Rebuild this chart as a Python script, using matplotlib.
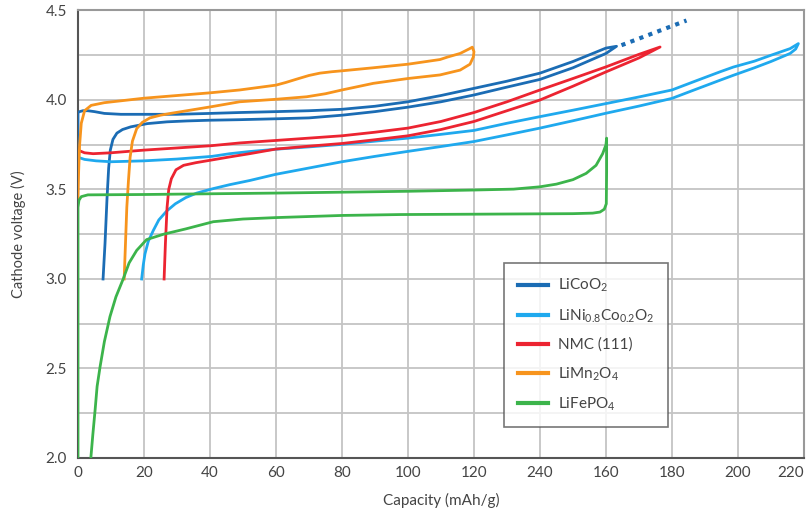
import numpy as np
import matplotlib.pyplot as plt
from matplotlib.ticker import MultipleLocator

plt.rcParams['font.family'] = ['Lato', 'DejaVu Sans']
plt.rcParams['mathtext.fontset'] = 'custom'
plt.rcParams['mathtext.rm'] = 'Lato'
plt.rcParams['mathtext.it'] = 'Lato'

# cathode voltage curves: (capacity mAh/g, volts)
# each one is a closed charge/discharge loop drawn as a single path
licoo2_x = [7.6, 8.2, 8.8, 9.3, 9.8, 10.6, 11.8, 13.5, 16, 21, 27, 33, 40, 49, 60, 70, 80, 90,
            100, 110, 120, 125, 130, 140, 150, 160, 163.2,
            160, 150, 140, 130, 125, 120, 110, 100, 90, 80, 70, 60, 49, 40, 30, 20, 13, 8, 5,
            3, 1.5, 0.5, 0, 0]
licoo2_v = [3.0, 3.2, 3.45, 3.62, 3.72, 3.78, 3.815, 3.835, 3.85, 3.868, 3.878, 3.883, 3.887,
            3.89, 3.895, 3.90, 3.915, 3.935, 3.96, 3.99, 4.028, 4.05, 4.072, 4.115, 4.18, 4.26, 4.30,
            4.29, 4.215, 4.15, 4.105, 4.085, 4.065, 4.025, 3.99, 3.965, 3.948, 3.94, 3.935, 3.93,
            3.925, 3.92, 3.92, 3.92, 3.925, 3.935, 3.94, 3.94, 3.935, 3.93, 3.75]
licoo2_ext_x = [164.7, 184.4]
licoo2_ext_v = [4.306, 4.444]

lini_x = [19.3, 19.8, 20.3, 21.3, 22.8, 24.5, 26.9, 29.5, 32.7, 36, 41, 46, 52, 60, 70, 80, 90,
          100, 110, 120, 130, 140, 150, 160, 170, 180, 187, 194.5, 198.6, 205, 210, 215.8, 217.5,
          218.3, 215.8, 210, 205, 198.6, 194.5, 187, 180, 170, 160, 150, 140, 130, 120, 110, 100,
          90, 80, 70, 60, 52, 46, 40.6, 30, 20, 10, 5.5, 2, 0]
lini_v = [3.0, 3.08, 3.14, 3.21, 3.27, 3.33, 3.38, 3.42, 3.455, 3.48, 3.505, 3.527, 3.55, 3.585,
          3.62, 3.655, 3.685, 3.713, 3.74, 3.768, 3.805, 3.843, 3.884, 3.926, 3.966, 4.009, 4.058,
          4.11, 4.138, 4.18, 4.215, 4.26, 4.285, 4.315, 4.287, 4.25, 4.217, 4.184, 4.157, 4.105,
          4.056, 4.017, 3.98, 3.943, 3.907, 3.87, 3.83, 3.808, 3.787, 3.77, 3.752, 3.738, 3.725,
          3.712, 3.70, 3.685, 3.67, 3.66, 3.655, 3.66, 3.668, 3.68]

nmc_x = [26.1, 26.5, 27, 27.5, 28.3, 29.7, 32, 35.8, 40.6, 46, 52, 60, 70, 80, 90, 100, 110, 120,
         130, 140, 150, 160, 170, 176.4,
         170, 160, 150, 140, 130, 120, 110, 100, 90, 80, 70, 60, 49, 40.6, 30, 20, 10, 4.6, 2, 0]
nmc_v = [3.0, 3.2, 3.4, 3.5, 3.56, 3.61, 3.635, 3.65, 3.665, 3.682, 3.70, 3.726, 3.742, 3.757,
         3.778, 3.80, 3.835, 3.88, 3.94, 4.0, 4.077, 4.157, 4.235, 4.296,
         4.255, 4.185, 4.12, 4.056, 3.99, 3.93, 3.88, 3.843, 3.82, 3.80, 3.787, 3.774, 3.76,
         3.745, 3.732, 3.72, 3.705, 3.70, 3.705, 3.72]

limn_x = [14, 14.4, 14.8, 15.3, 15.8, 16.5, 17.8, 19.5, 21.8, 25, 28, 34, 40.6, 49, 60, 69.3, 75,
          80, 89.5, 100, 109.7, 115.8, 118.8, 119.8, 120, 119.5, 118.5, 115.8, 112, 109.7, 100,
          89.5, 80, 77, 73.3, 70, 66, 63, 60, 49, 40, 30, 20, 8, 4, 2, 1, 0.5, 0.2, 0]
limn_v = [3.0, 3.2, 3.4, 3.55, 3.68, 3.77, 3.84, 3.875, 3.90, 3.915, 3.925, 3.943, 3.963, 3.99,
          4.004, 4.018, 4.035, 4.056, 4.093, 4.12, 4.14, 4.167, 4.20, 4.24, 4.27, 4.295, 4.285,
          4.26, 4.24, 4.226, 4.20, 4.18, 4.163, 4.158, 4.15, 4.137, 4.115, 4.098, 4.083, 4.056,
          4.04, 4.025, 4.01, 3.985, 3.97, 3.94, 3.87, 3.75, 3.6, 3.45]

lfp_x = [0, 0, 0.3, 1, 3, 20, 40, 60, 80, 100, 120, 132, 140, 145, 150, 154, 157, 159, 160,
         160.2, 160.2, 160.1, 159.5, 158.2, 156, 150, 120, 97.6, 80, 60, 50, 41, 32.7, 25.9, 20.8,
         17.8, 15.5, 13.7, 11.5, 9.7, 8, 6.7, 5.8, 5.2, 4.5, 3.9]
lfp_v = [2.0, 3.40, 3.44, 3.46, 3.47, 3.472, 3.476, 3.48, 3.485, 3.49, 3.497, 3.502, 3.515, 3.53,
         3.555, 3.59, 3.635, 3.70, 3.75, 3.787, 3.60, 3.42, 3.39, 3.374, 3.368, 3.365, 3.362,
         3.36, 3.355, 3.343, 3.335, 3.32, 3.28, 3.25, 3.22, 3.16, 3.09, 3.0, 2.9, 2.79, 2.65,
         2.51, 2.4, 2.27, 2.13, 2.0]

labels = ['LiCoO$_2$', 'LiNi$_{0.8}$Co$_{0.2}$O$_2$', 'NMC (111)', 'LiMn$_2$O$_4$', 'LiFePO$_4$']
colors = ['#1b6cb4', '#1fa9ee', '#ec2431', '#f7941d', '#3cb44b']
xtick_vals = [0, 20, 40, 60, 80, 100, 120, 140, 160, 180, 200, 220]
xtick_labels = ['0', '20', '40', '60', '80', '100', '120', '240', '160', '180', '200', '220']

curves = [(licoo2_x, licoo2_v), (lini_x, lini_v), (nmc_x, nmc_v), (limn_x, limn_v), (lfp_x, lfp_v)]

fig = plt.figure(figsize=(8.08, 5.12), dpi=100)
ax = fig.add_axes([0.0965, 0.1055, 0.8985, 0.874])

for (xs, vs), lab, c in zip(curves, labels, colors):
    ax.plot(xs, vs, color=c, lw=2, label=lab, solid_joinstyle='round', zorder=3)
ax.plot(licoo2_ext_x, licoo2_ext_v, color=colors[0], lw=3, ls=(0, (1, 1.3)), zorder=3)

ax.set_xlim(0, 220)
ax.set_ylim(2.0, 4.5)
ax.set_xticks(xtick_vals)
ax.set_xticklabels(xtick_labels)
ax.get_xticklabels()[-1].set_ha('right')
ax.yaxis.set_major_locator(MultipleLocator(0.5))
ax.yaxis.set_minor_locator(MultipleLocator(0.25))
ax.yaxis.set_major_formatter(lambda v, p: f'{v:.1f}')
ax.grid(True, which='both', color='#c4c4c4', lw=1.3, zorder=0)
ax.set_axisbelow(True)
ax.tick_params(which='both', length=0, labelsize=11, labelcolor='#444444')
ax.tick_params(axis='y', pad=8)
ax.tick_params(axis='x', pad=6)

for s in ['left', 'bottom']:
    ax.spines[s].set_color('#555555')
    ax.spines[s].set_linewidth(1.5)
for s in ['top', 'right']:
    ax.spines[s].set_color('#999999')
    ax.spines[s].set_linewidth(1.5)

ax.set_xlabel('Capacity (mAh/g)', fontsize=11, color='#444444', labelpad=9)
ax.set_ylabel('Cathode voltage (V)', fontsize=10.5, color='#444444', labelpad=14)

leg = ax.legend(loc='upper left', bbox_to_anchor=(0.587, 0.435), borderaxespad=0,
                fontsize=11, frameon=True, fancybox=False, handlelength=2.0,
                labelspacing=0.85, borderpad=0.9, handletextpad=0.6)
leg.get_frame().set_edgecolor('#555555')
leg.get_frame().set_linewidth(1.2)
for t in leg.get_texts():
    t.set_color('#444444')
for h in leg.get_lines():
    h.set_linewidth(3)

fig.savefig('out.png', dpi=100)
